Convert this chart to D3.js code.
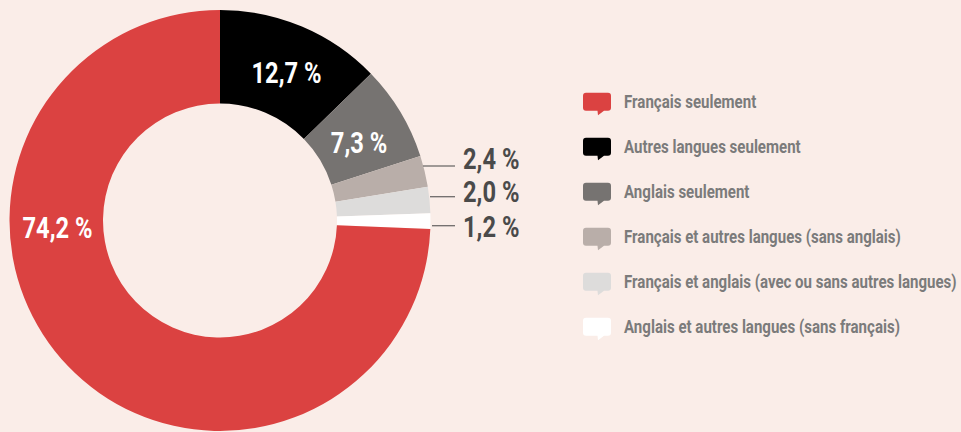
<!DOCTYPE html>
<html><head><meta charset="utf-8">
<script src="https://cdn.jsdelivr.net/npm/d3@7"></script>
<style>
html,body{margin:0;padding:0;background:#faede8;}
svg{display:block;}
text{font-family:Roboto,"DejaVu Sans Condensed",sans-serif;font-weight:bold;}
</style></head>
<body>
<svg id="c" width="961" height="432"></svg>
<script>
const categories = ["Autres langues seulement","Anglais seulement","Français et autres langues (sans anglais)","Français et anglais (avec ou sans autres langues)","Anglais et autres langues (sans français)","Français seulement"];
const values = [12.7, 7.3, 2.4, 2.0, 1.2, 74.2];
const labels = ["12,7 %","7,3 %","2,4 %","2,0 %","1,2 %","74,2 %"];
const colors = ["#000000","#767371","#b9aea9","#dddcdb","#ffffff","#db4241"];
const legendOrder = ["Français seulement","Autres langues seulement","Anglais seulement","Français et autres langues (sans anglais)","Français et anglais (avec ou sans autres langues)","Anglais et autres langues (sans français)"];

const svg = d3.select("#c");
const cx = 220, cy = 220.5, R = 210.5, r = 117;
const color = d3.scaleOrdinal().domain(categories).range(colors);
const pie = d3.pie().sort(null).value(d => d.v);
const data = categories.map((c,i)=>({c, v:values[i], l:labels[i]}));
const arcs = pie(data);
const arc = d3.arc().innerRadius(r).outerRadius(R);
const g = svg.append("g").attr("transform",`translate(${cx},${cy})`);
g.selectAll("path").data(arcs).join("path").attr("d",arc).attr("fill",d=>color(d.data.c));

const kP = 0.79;
function pct(parent, x, y, txt, fill, anchor){
  return parent.append("text").attr("transform",`translate(${x},${y}) scale(${kP},1)`)
    .attr("text-anchor",anchor).attr("fill",fill).attr("font-size",30).text(txt);
}
// inside labels (positions relative to centre)
const insidePos = {0:[66.5,-137.3], 1:[139,-67.5], 5:[-162.5,17.2]};
Object.keys(insidePos).forEach(i=>{
  const a = arcs[i];
  pct(g, insidePos[i][0], insidePos[i][1], a.data.l, "#ffffff", "middle");
});
// outside labels with leaders
const lineY = [-54.5, -23.8, 5.2];
const baseY = [-51.5, -18.3, 16.2];
const lineX1 = [203, 210, 212];
[2,3,4].forEach((i,k)=>{
  const a=arcs[i];
  g.append("line").attr("x1",lineX1[k]).attr("x2",235).attr("y1",lineY[k]).attr("y2",lineY[k])
    .attr("stroke","#6e6b6a").attr("stroke-width",1.3);
  pct(g, 243, baseY[k], a.data.l, "#4a4a4a", "start");
});

// legend
const bubble = "M3,0 H25 Q28,0 28,3 V15 Q28,18 25,18 H21 L15,22.5 L14.5,18 H3 Q0,18 0,15 V3 Q0,0 3,0 Z";
const lg = svg.append("g");
const items = legendOrder.map((c,i)=>{
  const yb = 108.3 + i*45;
  lg.append("path").attr("d",bubble).attr("transform",`translate(583,${yb-15.5})`).attr("fill",color(c));
  return lg.append("text").attr("y",yb).attr("fill","#7b7b7b").attr("font-size",18).text(c);
});
const maxW = d3.max(items, t=>t.node().getComputedTextLength());
const kL = (957-624)/maxW;
items.forEach(t=>t.attr("transform",`translate(624,0) scale(${kL},1)`));
</script>
</body></html>
